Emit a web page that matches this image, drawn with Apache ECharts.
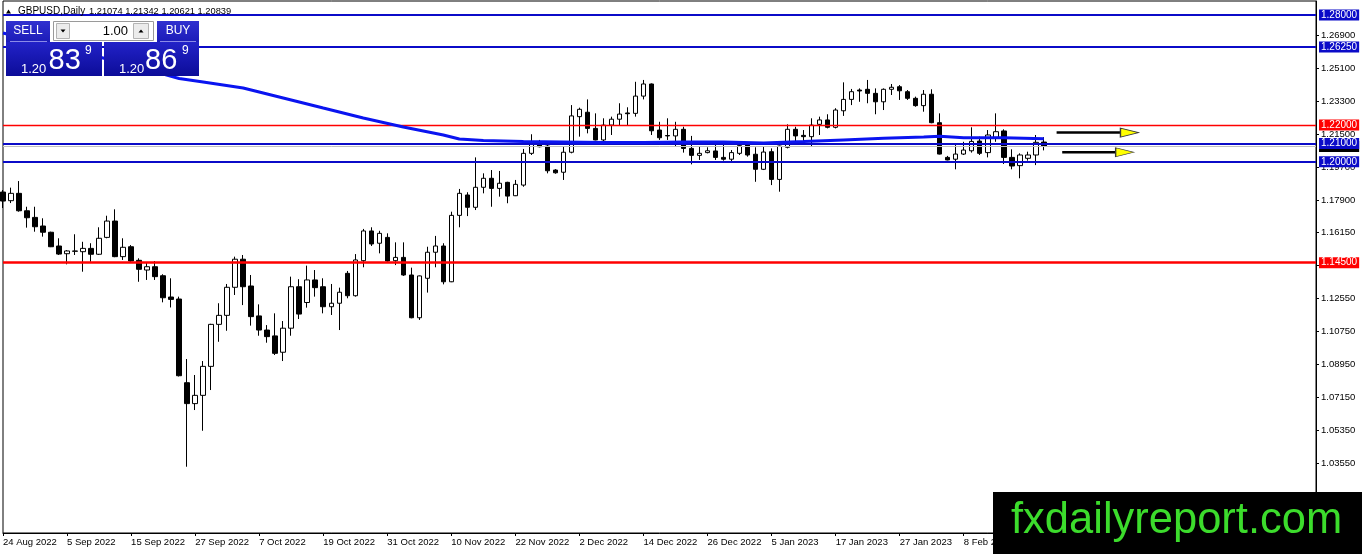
<!DOCTYPE html>
<html><head><meta charset="utf-8">
<script src="https://cdn.jsdelivr.net/npm/echarts@6/dist/echarts.min.js"></script>
<style>html,body{margin:0;padding:0;background:#fff;overflow:hidden}#c{width:1362px;height:554px}</style>
</head><body><div id="c"></div>
<script>
const dates = ['24 Aug 2022','25 Aug 2022','26 Aug 2022','29 Aug 2022','30 Aug 2022','31 Aug 2022',
'1 Sep 2022','2 Sep 2022','5 Sep 2022','6 Sep 2022','7 Sep 2022','8 Sep 2022','9 Sep 2022','12 Sep 2022','13 Sep 2022','14 Sep 2022','15 Sep 2022','16 Sep 2022','19 Sep 2022','20 Sep 2022','21 Sep 2022','22 Sep 2022','23 Sep 2022','26 Sep 2022','27 Sep 2022','28 Sep 2022','29 Sep 2022','30 Sep 2022',
'3 Oct 2022','4 Oct 2022','5 Oct 2022','6 Oct 2022','7 Oct 2022','10 Oct 2022','11 Oct 2022','12 Oct 2022','13 Oct 2022','14 Oct 2022','17 Oct 2022','18 Oct 2022','19 Oct 2022','20 Oct 2022','21 Oct 2022','24 Oct 2022','25 Oct 2022','26 Oct 2022','27 Oct 2022','28 Oct 2022','31 Oct 2022',
'1 Nov 2022','2 Nov 2022','3 Nov 2022','4 Nov 2022','7 Nov 2022','8 Nov 2022','9 Nov 2022','10 Nov 2022','11 Nov 2022','14 Nov 2022','15 Nov 2022','16 Nov 2022','17 Nov 2022','18 Nov 2022','21 Nov 2022','22 Nov 2022','23 Nov 2022','24 Nov 2022','25 Nov 2022','28 Nov 2022','29 Nov 2022','30 Nov 2022',
'1 Dec 2022','2 Dec 2022','5 Dec 2022','6 Dec 2022','7 Dec 2022','8 Dec 2022','9 Dec 2022','12 Dec 2022','13 Dec 2022','14 Dec 2022','15 Dec 2022','16 Dec 2022','19 Dec 2022','20 Dec 2022','21 Dec 2022','22 Dec 2022','23 Dec 2022','26 Dec 2022','27 Dec 2022','28 Dec 2022','29 Dec 2022','30 Dec 2022',
'2 Jan 2023','3 Jan 2023','4 Jan 2023','5 Jan 2023','6 Jan 2023','9 Jan 2023','10 Jan 2023','11 Jan 2023','12 Jan 2023','13 Jan 2023','16 Jan 2023','17 Jan 2023','18 Jan 2023','19 Jan 2023','20 Jan 2023','23 Jan 2023','24 Jan 2023','25 Jan 2023','26 Jan 2023','27 Jan 2023','30 Jan 2023','31 Jan 2023',
'1 Feb 2023','2 Feb 2023','3 Feb 2023','6 Feb 2023','7 Feb 2023','8 Feb 2023','9 Feb 2023','10 Feb 2023','13 Feb 2023','14 Feb 2023','15 Feb 2023','16 Feb 2023','17 Feb 2023','20 Feb 2023','21 Feb 2023','22 Feb 2023'];

const opens = [1.1835,1.1788,1.1828,1.1733,1.1697,1.1650,1.1616,1.1541,1.1499,1.1512,
1.1510,1.1528,1.1496,1.1588,1.1677,1.1483,1.1537,1.1463,1.1410,1.1428,
1.1379,1.1263,1.1252,1.0796,1.0682,1.0727,1.0885,1.1114,1.1163,1.1316,
1.1469,1.1323,1.1160,1.1083,1.1051,1.0962,1.1093,1.1319,1.1233,1.1356,
1.1319,1.1210,1.1229,1.1392,1.1270,1.1461,1.1623,1.1556,1.1588,1.1461,
1.1479,1.1383,1.1150,1.1365,1.1507,1.1541,1.1346,1.1708,1.1819,1.1752,
1.1861,1.1910,1.1855,1.1888,1.1815,1.1873,1.2046,1.2097,1.2086,1.1955,
1.1943,1.2052,1.2246,1.2270,1.2182,1.2119,1.2200,1.2232,1.2266,1.2264,
1.2358,1.2424,1.2173,1.2143,1.2141,1.2177,1.2073,1.2035,1.2050,1.2059,
1.2024,1.2014,1.2046,1.2091,1.2041,1.1959,1.2055,1.1904,1.2079,1.2177,
1.2144,1.2137,1.2204,1.2228,1.2188,1.2278,1.2340,1.2391,1.2395,1.2373,
1.2327,1.2395,1.2409,1.2382,1.2346,1.2306,1.2368,1.2213,1.2024,1.2014,
1.2042,1.2060,1.2113,1.2050,1.2133,1.2168,1.2024,1.1979,1.2019,1.2037,
1.21074];
const closes = [1.1786,1.1828,1.1733,1.1695,1.1646,1.1616,1.1537,1.1497,1.1514,1.1514,
1.1528,1.1496,1.1583,1.1677,1.1483,1.1534,1.1459,1.1414,1.1428,1.1374,
1.1259,1.1250,1.0834,1.0682,1.0727,1.0885,1.1114,1.1163,1.1316,1.1469,
1.1319,1.1156,1.1083,1.1047,1.0956,1.1093,1.1319,1.1170,1.1356,1.1314,
1.1210,1.1229,1.1289,1.1270,1.1465,1.1623,1.1552,1.1610,1.1459,1.1479,
1.1383,1.1150,1.1378,1.1507,1.1541,1.1346,1.1708,1.1828,1.1752,1.1861,
1.1910,1.1855,1.1883,1.1813,1.1877,1.2046,1.2097,1.2082,1.1951,1.1940,
1.2052,1.2250,1.2286,1.2182,1.2119,1.2200,1.2232,1.2260,1.2262,1.2358,
1.2424,1.2169,1.2131,1.2141,1.2177,1.2073,1.2035,1.2046,1.2060,1.2024,
1.2014,1.2050,1.2088,1.2037,1.1959,1.2053,1.1904,1.2086,1.2177,1.2141,
1.2137,1.2200,1.2228,1.2188,1.2282,1.2340,1.2382,1.2386,1.2373,1.2327,
1.2395,1.2406,1.2387,1.2346,1.2306,1.2368,1.2213,1.2042,1.2010,1.2042,
1.2064,1.2111,1.2046,1.2146,1.2164,1.2024,1.1977,1.2037,1.2037,1.2106,
1.20839];
const lows = [1.1748,1.1775,1.1728,1.1641,1.1619,1.1592,1.1535,1.1492,1.1441,1.1492,
1.1401,1.1455,1.1492,1.1583,1.1480,1.1465,1.1452,1.1346,1.1356,1.1356,
1.1234,1.1206,1.0830,1.0338,1.0647,1.0534,1.0756,1.1019,1.1079,1.1274,
1.1219,1.1107,1.1052,1.1014,1.0947,1.0914,1.1052,1.1143,1.1205,1.1265,
1.1174,1.1165,1.1083,1.1256,1.1265,1.1425,1.1541,1.1501,1.1455,1.1437,
1.1378,1.1147,1.1138,1.1287,1.1425,1.1332,1.1344,1.1643,1.1704,1.1737,
1.1828,1.1755,1.1810,1.1774,1.1813,1.1864,1.2037,1.2079,1.1937,1.1935,
1.1901,1.2046,1.2137,1.2155,1.2117,1.2109,1.2146,1.2200,1.2200,1.2246,
1.2340,1.2146,1.2119,1.2119,1.2082,1.2050,1.1986,1.2010,1.2046,1.2010,
1.2006,1.2000,1.2037,1.2028,1.1891,1.1955,1.1873,1.1837,1.2073,1.2113,
1.2113,1.2082,1.2146,1.2182,1.2182,1.2250,1.2309,1.2327,1.2319,1.2259,
1.2282,1.2364,1.2337,1.2337,1.2300,1.2273,1.2210,1.2040,1.2008,1.1959,
1.2037,1.2050,1.2037,1.2024,1.2109,1.1988,1.1959,1.1910,1.2006,1.1982,
1.20621];
const highs = [1.1846,1.1859,1.1895,1.1755,1.1755,1.1692,1.1619,1.1583,1.1519,1.1605,
1.1564,1.1556,1.1643,1.1706,1.1741,1.1583,1.1546,1.1474,1.1452,1.1459,
1.1387,1.1365,1.1265,1.0925,1.0838,1.0914,1.1117,1.1229,1.1334,1.1483,
1.1492,1.1383,1.1223,1.1110,1.1174,1.1132,1.1374,1.1360,1.1434,1.1410,
1.1365,1.1334,1.1314,1.1405,1.1497,1.1634,1.1643,1.1624,1.1610,1.1561,
1.1561,1.1423,1.1380,1.1537,1.1596,1.1556,1.1728,1.1852,1.1834,1.2024,
1.1937,1.1955,1.1950,1.1891,1.1901,1.2070,1.2150,1.2119,1.2113,1.1960,
1.2086,1.2309,1.2295,1.2340,1.2264,1.2237,1.2246,1.2319,1.2297,1.2436,
1.2446,1.2427,1.2218,1.2237,1.2218,1.2191,1.2141,1.2082,1.2079,1.2091,
1.2097,1.2064,1.2109,1.2097,1.2079,1.2086,1.2073,1.2088,1.2204,1.2191,
1.2173,1.2237,1.2246,1.2259,1.2292,1.2433,1.2397,1.2400,1.2446,1.2400,
1.2400,1.2424,1.2418,1.2391,1.2355,1.2391,1.2395,1.2264,1.2032,1.2091,
1.2109,1.2188,1.2137,1.2173,1.2264,1.2177,1.2068,1.2046,1.2055,1.2146,
1.21342];

// moving average line, read at sampled bars
const maIndex  = [0,5,10,15,20,22,25,30,35,40,45,50,55,57,60,65,70,75,80,85,90,95,100,105,110,115,117,120,125,130];
const maValues = [1.2702,1.2647,1.2593,1.2538,1.2478,1.2454,1.2435,1.2402,1.2348,1.2293,1.2239,1.2190,1.2146,1.2124,1.2116,1.2110,1.2108,1.2105,1.2105,1.2108,1.2108,1.2102,1.2110,1.2119,1.2128,1.2135,1.2139,1.2131,1.2131,1.2126];

const yTicks = [1.269,1.251,1.233,1.215,1.197,1.179,1.1615,1.1435,1.1255,1.1075,1.0895,1.0715,1.0535,1.0355];
const levelValues = [1.28, 1.2625, 1.22, 1.21, 1.20, 1.145];
const levelColors = ['#0b0bc8','#0b0bc8','#ff0000','#0b0bc8','#0b0bc8','#ff0000'];
const levelWidths = [2, 2, 1.4, 2, 2, 2.5];
const bidPrice = 1.20839;

// arrows: [startBar, endBar, headBar, price]
const arrowStart = [131.6, 132.3];
const arrowEnd   = [139.6, 139.0];
const arrowHead  = [140.7, 140.1];
const arrowPrice = [1.2159, 1.2052];

const headerSymbol = 'GBPUSD,Daily';
const headerOHLC = ['1.21074','1.21342','1.20621','1.20839'];
const sellQuote = ['1.20','83','9'];
const buyQuote = ['1.20','86','9'];
const lotText = '1.00';
const logoText = 'fxdailyreport.com';

const futureSlots = 34;
const categories = dates.concat(new Array(futureSlots).fill(''));
const candleData = opens.map((o, i) => [o, closes[i], lows[i], highs[i]]);
const maData = maIndex.map((x, i) => [x, maValues[i]]);

const FONT = "'Liberation Sans', Arial, sans-serif";
const chart = echarts.init(document.getElementById('c'), null, {renderer: 'canvas'});

const markData = [{
  yAxis: bidPrice,
  lineStyle: {color: '#c0c0c0', width: 1, type: 'solid'},
  label: {backgroundColor: '#000', color: '#fff'}
}].concat(levelValues.map((v, i) => ({
  yAxis: v,
  lineStyle: {color: levelColors[i], width: levelWidths[i], type: 'solid', opacity: 1},
  label: {backgroundColor: levelColors[i], color: '#fff'}
})));

function grad(a, b) {
  return new echarts.graphic.LinearGradient(0, 0, 0, 1, [{offset: 0, color: a}, {offset: 1, color: b}]);
}
function txt(text, x, y, size, color, align, extra) {
  return Object.assign({type: 'text', z: 110, silent: true, style: {
    text: text, x: x, y: y, fill: color, font: size + 'px ' + FONT,
    align: align || 'left', textAlign: align || 'left', verticalAlign: 'middle', textVerticalAlign: 'middle'
  }}, extra || {});
}

const graphics = [
  // header
  {type: 'polygon', z: 110, shape: {points: [[6, 13.5], [8.5, 9.5], [11, 13.5]]}, style: {fill: '#000'}},
  txt(headerSymbol, 18, 11, 10, '#000'),
  txt(headerOHLC.join(' '), 89, 11, 9.3, '#000'),
  // trade panel top row
  {type: 'rect', z: 105, shape: {x: 6, y: 21, width: 44, height: 21}, style: {fill: grad('#3030d0', '#1c1cb8')}},
  {type: 'line', z: 106, shape: {x1: 10, y1: 41.5, x2: 47, y2: 41.5}, style: {stroke: '#8a8ae8', lineWidth: 1}},
  txt('SELL', 28, 31, 12, '#fff', 'center'),
  {type: 'rect', z: 105, shape: {x: 53.5, y: 21.5, width: 100, height: 19}, style: {fill: '#fff', stroke: '#9a9a9a', lineWidth: 1}},
  {type: 'rect', z: 106, shape: {x: 56.5, y: 23.5, width: 13, height: 15}, style: {fill: '#ececec', stroke: '#b4b4b4', lineWidth: 1}},
  {type: 'polygon', z: 107, shape: {points: [[60.5, 29.5], [65.5, 29.5], [63, 32.5]]}, style: {fill: '#000'}},
  {type: 'rect', z: 106, shape: {x: 133.5, y: 23.5, width: 15, height: 15}, style: {fill: '#ececec', stroke: '#b4b4b4', lineWidth: 1}},
  {type: 'polygon', z: 107, shape: {points: [[138.5, 32.5], [143.5, 32.5], [141, 29.5]]}, style: {fill: '#000'}},
  txt(lotText, 128, 31, 13, '#000', 'right'),
  {type: 'rect', z: 105, shape: {x: 157, y: 21, width: 42, height: 21}, style: {fill: grad('#3030d0', '#1c1cb8')}},
  {type: 'line', z: 106, shape: {x1: 160, y1: 41.5, x2: 196, y2: 41.5}, style: {stroke: '#8a8ae8', lineWidth: 1}},
  txt('BUY', 178, 31, 12, '#fff', 'center'),
  // price boxes
  {type: 'rect', z: 105, shape: {x: 6, y: 42, width: 96, height: 34}, style: {fill: grad('#2222c8', '#0c0c98')}},
  {type: 'rect', z: 105, shape: {x: 104, y: 42, width: 95, height: 34}, style: {fill: grad('#2222c8', '#0c0c98')}},
  txt(sellQuote[0], 21, 69.5, 13, '#fff'),
  txt(sellQuote[1], 48.5, 61, 29, '#fff'),
  txt(sellQuote[2], 85, 51, 12, '#fff'),
  txt(buyQuote[0], 119, 69.5, 13, '#fff'),
  txt(buyQuote[1], 145, 61, 29, '#fff'),
  txt(buyQuote[2], 182, 51, 12, '#fff'),
  // logo
  {type: 'rect', z: 120, shape: {x: 993, y: 492, width: 369, height: 62}, style: {fill: '#000'}},
  txt(logoText, 1011, 521, 43.5, '#3cdc2c', 'left', {z: 121})
];

const option = {
  animation: false,
  backgroundColor: '#fff',
  grid: {left: 3, right: 46, top: 1, bottom: 21, show: true, borderColor: '#000', borderWidth: 1, backgroundColor: '#fff'},
  xAxis: [{
    type: 'category', data: categories, boundaryGap: false,
    axisLine: {show: true, onZero: false, lineStyle: {color: '#000', width: 1}},
    axisTick: {show: true, interval: 7, length: 3, lineStyle: {color: '#000'}},
    axisLabel: {interval: 7, align: 'left', margin: 4, color: '#000', fontSize: 9.5, fontFamily: FONT,
      showMinLabel: true, showMaxLabel: false},
    splitLine: {show: false}
  }, {
    type: 'value', min: 0, max: categories.length - 1, show: false,
    axisLine: {onZero: false}
  }],
  yAxis: {
    type: 'value', position: 'right', min: 0.99768, max: 1.28763, scale: true,
    axisLine: {show: true, onZero: false, lineStyle: {color: '#000', width: 1}},
    axisTick: {show: true, length: 3, inside: false, customValues: yTicks, lineStyle: {color: '#000'}},
    axisLabel: {customValues: yTicks, margin: 5, color: '#000', fontSize: 9.5, fontFamily: FONT,
      formatter: v => Number(v).toFixed(5)},
    splitLine: {show: false}
  },
  series: [{
    type: 'candlestick', name: 'GBPUSD', xAxisIndex: 0, data: candleData, barWidth: 5, z: 2,
    itemStyle: {color: '#fff', color0: '#000', borderColor: '#000', borderColor0: '#000', borderColorDoji: '#000', borderWidth: 1},
    markLine: {
      silent: true, symbol: ['none', 'none'], animation: false, precision: 5,
      label: {show: true, position: 'end', distance: 3, fontSize: 10, fontFamily: FONT, padding: [1, 2, 0, 2],
        formatter: p => Number(p.value).toFixed(5)},
      data: markData
    }
  }, {
    type: 'line', name: 'MA', xAxisIndex: 1, data: maData, showSymbol: false, symbol: 'none', smooth: false, z: 5,
    lineStyle: {color: '#0a14f0', width: 3}
  }, {
    type: 'line', xAxisIndex: 1, z: 6, symbol: 'none',
    data: [[arrowStart[0], arrowPrice[0]], [arrowEnd[0], arrowPrice[0]]],
    lineStyle: {color: '#000', width: 2.5}
  }, {
    type: 'line', xAxisIndex: 1, z: 6, symbol: 'none',
    data: [[arrowStart[1], arrowPrice[1]], [arrowEnd[1], arrowPrice[1]]],
    lineStyle: {color: '#000', width: 2.5}
  }, {
    type: 'scatter', xAxisIndex: 1, z: 7, symbol: 'triangle', symbolSize: [9, 18], symbolRotate: -90,
    data: arrowHead.map((x, i) => [x, arrowPrice[i]]),
    itemStyle: {color: '#ffff00', borderColor: '#3a3a3a', borderWidth: 1, opacity: 1}
  }],
  graphic: {elements: graphics}
};
chart.setOption(option);
</script>
</body></html>
